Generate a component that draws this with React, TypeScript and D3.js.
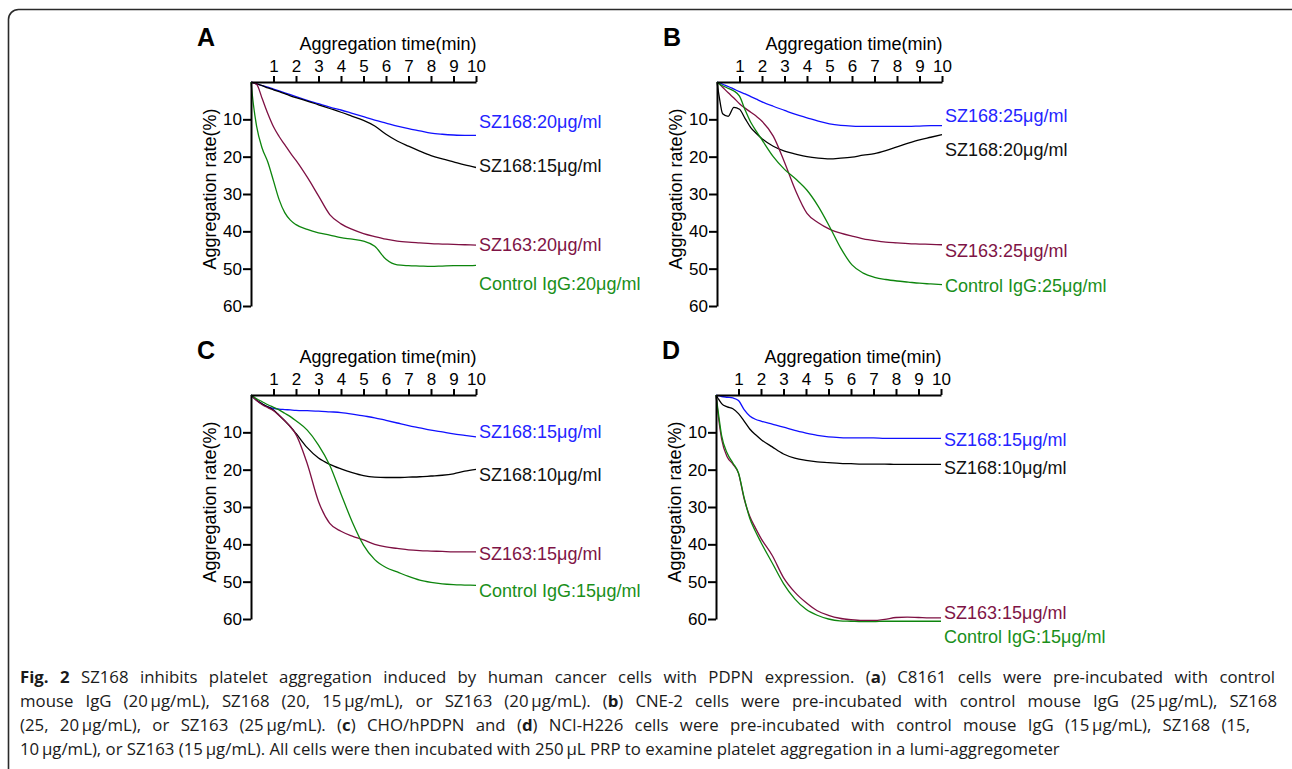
import React, { useEffect, useRef } from "react";
import * as d3 from "d3";

// sample times (min) shared by every trace
const times = [0, 0.1, 0.25, 0.5, 0.75, 1, 1.25, 1.5, 1.75, 2, 2.5, 3, 3.5, 4, 4.5, 5, 5.5, 6, 6.5, 7, 7.5, 8, 8.5, 9, 9.5, 10];
const timeTicks = [1, 2, 3, 4, 5, 6, 7, 8, 9, 10];
const rateTicks = [10, 20, 30, 40, 50, 60];

// panel A - C8161
const aBlue = [0, 0.2, 0.5, 1.0, 1.4, 1.9, 2.4, 2.9, 3.4, 3.9, 4.9, 5.8, 6.7, 7.5, 8.4, 9.3, 10.2, 11, 11.8, 12.5, 13.1, 13.7, 14.0, 14.2, 14.3, 14.3];
const aBlack = [0, 0.2, 0.5, 1.0, 1.6, 2.1, 2.6, 3.1, 3.7, 4.2, 5.1, 6.1, 7.1, 8.1, 9.2, 10.3, 11.8, 14, 15.8, 17.2, 18.5, 19.7, 20.6, 21.4, 22.2, 22.9];
const aRed = [0, 0.2, 0.6, 4.5, 8.5, 12, 14.6, 16.8, 19, 21, 25.5, 30.5, 35.5, 38, 39.5, 40.6, 41.4, 42.1, 42.6, 42.9, 43.1, 43.3, 43.4, 43.5, 43.6, 43.7];
const aGreen = [0, 5.7, 11.9, 17.8, 21.5, 26.5, 31.5, 35, 37, 38.2, 39.5, 40.4, 41, 41.7, 42.1, 42.6, 44, 47.5, 49, 49.2, 49.3, 49.4, 49.3, 49.2, 49.2, 49.1];

// panel B - CNE-2
const bBlue = [0, 0.2, 0.6, 1.2, 1.9, 2.6, 3.2, 3.9, 4.6, 5.3, 6.5, 7.6, 8.7, 9.6, 10.5, 11.2, 11.6, 11.8, 11.9, 11.9, 11.9, 11.9, 11.9, 11.8, 11.7, 11.7];
const bBlack = [0, 4, 8.5, 9.2, 6.8, 7.3, 9.8, 12.2, 13.8, 15.2, 17.2, 18.5, 19.3, 20, 20.4, 20.6, 20.4, 20.1, 19.6, 19.2, 18.4, 17.4, 16.4, 15.5, 14.8, 14.1];
const bRed = [0, 0.5, 1.4, 2.9, 4.3, 5.8, 7.0, 8.1, 9.2, 10.5, 14.5, 21.5, 29.2, 35.2, 37.7, 39.4, 40.5, 41.3, 42, 42.5, 42.9, 43.1, 43.3, 43.4, 43.5, 43.6];
const bGreen = [0, 0.5, 1.0, 1.7, 2.4, 3.8, 7.5, 10.8, 13.2, 15.5, 20, 23.4, 26, 29, 33.3, 38.7, 44.5, 49, 51.2, 52.3, 52.9, 53.3, 53.6, 53.9, 54.1, 54.3];

// panel C - CHO/hPDPN
const cBlue = [0, 0.6, 1.4, 2.4, 3.2, 3.6, 3.8, 3.9, 4.0, 4.1, 4.2, 4.3, 4.5, 4.7, 5.1, 5.6, 6.1, 6.8, 7.5, 8.2, 8.8, 9.4, 9.9, 10.4, 10.8, 11.2];
const cBlack = [0, 0.6, 1.4, 2.4, 3.2, 4.0, 5.4, 6.9, 8.5, 10.3, 14.1, 16.9, 18.6, 19.8, 20.8, 21.6, 22, 22.1, 22.1, 22, 21.9, 21.7, 21.5, 21.1, 20.4, 19.9];
const cRed = [0, 0.6, 1.5, 2.6, 3.4, 4.2, 5.5, 6.9, 8.5, 10.6, 18.4, 28.5, 34.4, 36.5, 37.8, 38.8, 40, 40.7, 41.1, 41.5, 41.7, 41.8, 41.9, 42, 42, 42];
const cGreen = [0, 0.4, 1.0, 1.8, 2.6, 3.3, 4.0, 4.9, 5.8, 6.9, 9.4, 13.4, 18.8, 26.5, 34.0, 40.2, 44.1, 46.2, 47.4, 48.6, 49.6, 50.2, 50.6, 50.8, 50.9, 51];

// panel D - NCI-H226
const dBlue = [0, 0.2, 0.4, 0.6, 0.8, 1.5, 3.9, 5.6, 6.5, 7.0, 7.8, 8.6, 9.5, 10.2, 10.8, 11.2, 11.4, 11.5, 11.5, 11.5, 11.6, 11.6, 11.6, 11.6, 11.6, 11.6];
const dBlack = [0, 1.0, 2.3, 3.2, 3.7, 5.0, 7.0, 9.1, 10.6, 11.9, 13.9, 15.8, 16.9, 17.5, 17.9, 18.1, 18.3, 18.4, 18.5, 18.5, 18.5, 18.6, 18.6, 18.6, 18.6, 18.6];
const dRed = [0, 5.5, 11.8, 16.6, 18.5, 21, 27.8, 32.5, 35.6, 38.4, 43, 48.9, 52.8, 55.6, 57.8, 59.0, 59.8, 60.2, 60.4, 60.4, 60.1, 59.6, 59.5, 59.6, 59.7, 59.7];
const dGreen = [0, 4.6, 10.9, 15.6, 18.2, 20.9, 27.5, 33, 36.5, 39.5, 45, 50.5, 54.6, 57.4, 59, 60, 60.5, 60.6, 60.7, 60.7, 60.6, 60.6, 60.6, 60.6, 60.6, 60.6];

// labels and the rate (%) their text is centred on
const aLabels = ["SZ168:20μg/ml", "SZ168:15μg/ml", "SZ163:20μg/ml", "Control IgG:20μg/ml"];
const aLabelAt = [10.5, 22.5, 43.6, 54];
const bLabels = ["SZ168:25μg/ml", "SZ168:20μg/ml", "SZ163:25μg/ml", "Control IgG:25μg/ml"];
const bLabelAt = [8.9, 18, 45.3, 54.6];
const cLabels = ["SZ168:15μg/ml", "SZ168:10μg/ml", "SZ163:15μg/ml", "Control IgG:15μg/ml"];
const cLabelAt = [9.9, 21.4, 42.6, 52.5];
const dLabels = ["SZ168:15μg/ml", "SZ168:10μg/ml", "SZ163:15μg/ml", "Control IgG:15μg/ml"];
const dLabelAt = [12, 19.6, 58.2, 64.7];

const lineColors = ["#1010ff", "#000000", "#7e1043", "#0d850d"];
const textColors = ["#2424ff", "#111111", "#7e1446", "#1a8f1a"];

const FONT = "Arial, 'Liberation Sans', sans-serif";
const PLOT_W = 225;
const PLOT_H = 224;

type PanelSpec = {
  letter: string;
  left: number;
  top: number;
  values: number[][];
  labels: string[];
  labelAt: number[];
};

const panels: PanelSpec[] = [
  { letter: "A", left: 251, top: 82, values: [aBlue, aBlack, aRed, aGreen], labels: aLabels, labelAt: aLabelAt },
  { letter: "B", left: 717, top: 82, values: [bBlue, bBlack, bRed, bGreen], labels: bLabels, labelAt: bLabelAt },
  { letter: "C", left: 251, top: 395, values: [cBlue, cBlack, cRed, cGreen], labels: cLabels, labelAt: cLabelAt },
  { letter: "D", left: 716, top: 395, values: [dBlue, dBlack, dRed, dGreen], labels: dLabels, labelAt: dLabelAt },
];

// caption, one entry per printed line; [text, bold]
const caption: [string, boolean][][] = [
  [["Fig. 2", true], [" SZ168 inhibits platelet aggregation induced by human cancer cells with PDPN expression. (", false], ["a", true], [") C8161 cells were pre-incubated with control", false]],
  [["mouse IgG (20\u2009μg/mL), SZ168 (20, 15\u2009μg/mL), or SZ163 (20\u2009μg/mL). (", false], ["b", true], [") CNE-2 cells were pre-incubated with control mouse IgG (25\u2009μg/mL), SZ168", false]],
  [["(25, 20\u2009μg/mL), or SZ163 (25\u2009μg/mL). (", false], ["c", true], [") CHO/hPDPN and (", false], ["d", true], [") NCI-H226 cells were pre-incubated with control mouse IgG (15\u2009μg/mL), SZ168 (15,", false]],
  [["10\u2009μg/mL), or SZ163 (15\u2009μg/mL). All cells were then incubated with 250\u2009μL PRP to examine platelet aggregation in a lumi-aggregometer", false]],
];
// right edge each caption line is spread to (0 = left as is)
const captionRight = [1275, 1277, 1250, 0];

function Panel({ p }: { p: PanelSpec }) {
  const xRef = useRef<SVGGElement>(null);
  const yRef = useRef<SVGGElement>(null);

  const x = d3.scaleLinear().domain([0, 10]).range([0, PLOT_W]);
  const y = d3.scaleLinear().domain([0, 60]).range([0, PLOT_H]);

  useEffect(() => {
    const gx = d3.select(xRef.current!);
    gx.call(d3.axisTop(x).tickValues(timeTicks).tickSize(6).tickSizeOuter(0).tickPadding(4).tickFormat(d3.format("d")) as any);
    const gy = d3.select(yRef.current!);
    gy.call(d3.axisLeft(y).tickValues(rateTicks).tickSize(8).tickSizeOuter(0).tickPadding(1).tickFormat(d3.format("d")) as any);

    [gx, gy].forEach((g) => {
      g.attr("font-family", FONT).attr("font-size", 17);
      g.selectAll("path.domain").attr("stroke", "#000").attr("stroke-width", 2);
      g.selectAll(".tick line").attr("stroke", "#000").attr("stroke-width", 2);
      g.selectAll(".tick text").attr("fill", "#000");
    });
  });

  const line = d3
    .line<number>()
    .x((_, i) => x(times[i]))
    .y((v) => y(v))
    .curve(d3.curveMonotoneX);

  return (
    <g transform={`translate(${p.left},${p.top})`} fontFamily={FONT}>
      <text x={-54} y={-36} fontSize={25} fontWeight="bold">
        {p.letter}
      </text>
      <text x={137} y={-32} fontSize={18} textAnchor="middle">
        Aggregation time(min)
      </text>
      <text transform={`translate(-35,${107}) rotate(-90)`} fontSize={18} textAnchor="middle">
        Aggregation rate(%)
      </text>
      {p.values.map((vals, i) => (
        <path key={i} d={line(vals) ?? ""} fill="none" stroke={lineColors[i]} strokeWidth={1.3} />
      ))}
      <g ref={xRef} />
      <g ref={yRef} />
      {p.labels.map((lab, i) => (
        <text key={lab + i} x={x(10) + 3} y={y(p.labelAt[i])} dy="0.35em" fontSize={18} fill={textColors[i]}>
          {lab}
        </text>
      ))}
    </g>
  );
}

export default function App() {
  const capRef = useRef<SVGGElement>(null);

  // justify the caption lines by widening the word gaps
  useEffect(() => {
    d3.select(capRef.current!)
      .selectAll<SVGTextElement, unknown>("text")
      .each(function (_, i) {
        const right = captionRight[i];
        if (!right) return;
        this.setAttribute("word-spacing", "0");
        const len = this.getComputedTextLength();
        const gaps = (this.textContent || "").split(" ").length - 1;
        const extra = (right - 20 - len) / gaps;
        this.setAttribute("word-spacing", String(extra));
      });
  }, []);

  return (
    <svg width={1292} height={769} style={{ position: "absolute", left: 0, top: 0, background: "#fff" }}>
      <rect x={8.5} y={9.5} width={1310} height={800} rx={10} fill="#fff" stroke="#2a2a2a" strokeWidth={1.6} />
      {panels.map((p) => (
        <Panel key={p.letter} p={p} />
      ))}
      <g ref={capRef} fontFamily="'Open Sans', 'Noto Sans', sans-serif" fontSize={16.8} fill="#1a1a1a">
        {caption.map((segs, li) => (
          <text key={li} x={20} y={683 + li * 24}>
            {segs.map(([t, b], si) => (
              <tspan key={si} fontWeight={b ? "bold" : "normal"}>
                {t}
              </tspan>
            ))}
          </text>
        ))}
      </g>
    </svg>
  );
}
